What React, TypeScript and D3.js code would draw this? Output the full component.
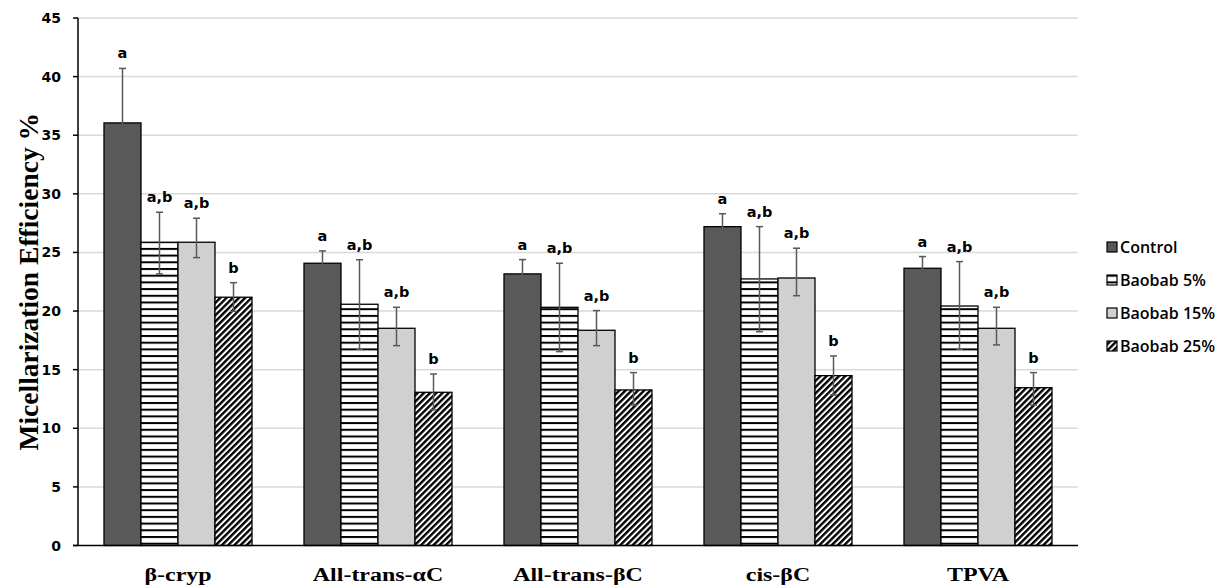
import React from "react";
import * as d3 from "d3";

const categories = ["β-cryp", "All-trans-αC", "All-trans-βC", "cis-βC", "TPVA"];
const seriesNames = ["Control", "Baobab 5%", "Baobab 15%", "Baobab 25%"];

const control = [36.05, 24.08, 23.17, 27.2, 23.65];
const baobab5 = [25.87, 20.58, 20.32, 22.74, 20.43];
const baobab15 = [25.87, 18.53, 18.36, 22.82, 18.53];
const baobab25 = [21.18, 13.07, 13.27, 14.49, 13.46];

const controlErrPlus = [4.65, 1.05, 1.22, 1.1, 1.0];
const controlErrMinus = [4.65, 1.05, 1.22, 1.1, 1.0];
const baobab5ErrPlus = [2.56, 3.8, 3.76, 4.46, 3.79];
const baobab5ErrMinus = [2.7, 3.85, 3.78, 4.5, 3.69];
const baobab15ErrPlus = [2.05, 1.79, 1.68, 2.54, 1.79];
const baobab15ErrMinus = [1.31, 1.48, 1.31, 1.51, 1.42];
const baobab25ErrPlus = [1.24, 1.56, 1.48, 1.68, 1.29];
const baobab25ErrMinus = [1.2, 1.5, 1.28, 1.65, 1.47];

const controlLetters = ["a", "a", "a", "a", "a"];
const baobab5Letters = ["a,b", "a,b", "a,b", "a,b", "a,b"];
const baobab15Letters = ["a,b", "a,b", "a,b", "a,b", "a,b"];
const baobab25Letters = ["b", "b", "b", "b", "b"];

const yTicks = [0, 5, 10, 15, 20, 25, 30, 35, 40, 45];
const yTitle = "Micellarization Efficiency %";

const allValues = [control, baobab5, baobab15, baobab25];
const allPlus = [controlErrPlus, baobab5ErrPlus, baobab15ErrPlus, baobab25ErrPlus];
const allMinus = [controlErrMinus, baobab5ErrMinus, baobab15ErrMinus, baobab25ErrMinus];
const allLetters = [controlLetters, baobab5Letters, baobab15Letters, baobab25Letters];
const fills = ["#595959", "url(#hstripe)", "#d0d0d0", "url(#diag)"];

export default function App() {
  const W = 1227;
  const H = 588;
  const left = 78;
  const right = 1078;
  const x0 = d3
    .scaleBand<string>()
    .domain(categories)
    .range([left, right])
    .paddingInner(0.26)
    .paddingOuter(0.13);
  const x1 = d3
    .scaleBand<string>()
    .domain(seriesNames)
    .range([0, x0.bandwidth()]);
  const y = d3.scaleLinear().domain([0, 45]).range([545.5, 18]);

  const tickFont = "'DejaVu Sans', Verdana, sans-serif";
  const serif = "'Liberation Serif', 'Times New Roman', serif";
  const errColor = "#595959";
  const cap = 3.5;

  return (
    <svg
      width={W}
      height={H}
      style={{ position: "absolute", left: 0, top: 0, display: "block", background: "#fff" }}
    >
      <defs>
        <pattern id="hstripe" patternUnits="userSpaceOnUse" width={8} height={6.7}>
          <rect x={0} y={0} width={8} height={6.7} fill="#fff" />
          <rect x={0} y={0} width={8} height={2} fill="#000" />
        </pattern>
        <pattern
          id="diag"
          patternUnits="userSpaceOnUse"
          width={4.4}
          height={10}
          patternTransform="rotate(45)"
        >
          <rect x={0} y={0} width={4.4} height={10} fill="#fff" />
          <rect x={0} y={0} width={2.4} height={10} fill="#000" />
        </pattern>
      </defs>

      {/* gridlines */}
      {yTicks
        .filter((t) => t > 0)
        .map((t) => (
          <line
            key={"g" + t}
            x1={left}
            x2={right}
            y1={y(t)}
            y2={y(t)}
            stroke="#d9d9d9"
            strokeWidth={1.5}
          />
        ))}

      {/* bars */}
      {categories.map((c, ci) => (
        <g key={c}>
          {seriesNames.map((s, si) => {
            const v = allValues[si][ci];
            const bx = (x0(c) as number) + (x1(s) as number);
            return (
              <rect
                key={s}
                x={bx}
                y={y(v)}
                width={x1.bandwidth()}
                height={y(0) - y(v)}
                fill={fills[si]}
                stroke="#000"
                strokeWidth={1.3}
              />
            );
          })}
        </g>
      ))}

      {/* error bars and letters */}
      {categories.map((c, ci) => (
        <g key={"e" + c}>
          {seriesNames.map((s, si) => {
            const v = allValues[si][ci];
            const cx = (x0(c) as number) + (x1(s) as number) + x1.bandwidth() / 2;
            const yt = y(v + allPlus[si][ci]);
            const yb = y(v - allMinus[si][ci]);
            return (
              <g key={s}>
                <line x1={cx} x2={cx} y1={yt} y2={yb} stroke={errColor} strokeWidth={1.5} />
                <line x1={cx - cap} x2={cx + cap} y1={yt} y2={yt} stroke={errColor} strokeWidth={1.5} />
                <line x1={cx - cap} x2={cx + cap} y1={yb} y2={yb} stroke={errColor} strokeWidth={1.5} />
                <text
                  x={cx}
                  y={yt - 10}
                  textAnchor="middle"
                  fontFamily={tickFont}
                  fontWeight="bold"
                  fontSize={14.5}
                  fill="#000"
                >
                  {allLetters[si][ci]}
                </text>
              </g>
            );
          })}
        </g>
      ))}

      {/* axes */}
      <line x1={left} x2={left} y1={y(45)} y2={y(0)} stroke="#000" strokeWidth={1.5} />
      <line x1={left - 5} x2={right} y1={y(0)} y2={y(0)} stroke="#000" strokeWidth={1.5} />
      {yTicks.map((t) => (
        <g key={"t" + t}>
          <line x1={left - 5} x2={left} y1={y(t)} y2={y(t)} stroke="#000" strokeWidth={1.5} />
          <text
            x={left - 17}
            y={y(t)}
            dy="0.36em"
            textAnchor="end"
            fontFamily={tickFont}
            fontWeight="bold"
            fontSize={14}
            fill="#000"
          >
            {t}
          </text>
        </g>
      ))}

      {/* x labels */}
      {categories.map((c) => {
        const cx = (x0(c) as number) + x0.bandwidth() / 2;
        return (
          <text
            key={"xl" + c}
            transform={`translate(${cx},581) scale(1.26,1)`}
            textAnchor="middle"
            fontFamily={serif}
            fontWeight="bold"
            fontSize={19}
            fill="#000"
          >
            {c}
          </text>
        );
      })}

      {/* y title */}
      <text
        transform={`translate(38,${(y(0) + y(45)) / 2}) rotate(-90)`}
        textAnchor="middle"
        fontFamily={serif}
        fontWeight="bold"
        fontSize={27.5}
        fill="#000"
      >
        {yTitle}
      </text>

      {/* legend */}
      {seriesNames.map((s, si) => {
        const ly = 247 + si * 33;
        return (
          <g key={"lg" + s}>
            <rect
              x={1107}
              y={ly - 5}
              width={10}
              height={10}
              fill={fills[si]}
              stroke="#000"
              strokeWidth={1.2}
            />
            <text
              x={1120}
              y={ly}
              dy="0.35em"
              fontFamily="'Open Sans', sans-serif"
              fontWeight={600}
              fontSize={16}
              fill="#000"
            >
              {s}
            </text>
          </g>
        );
      })}
    </svg>
  );
}
